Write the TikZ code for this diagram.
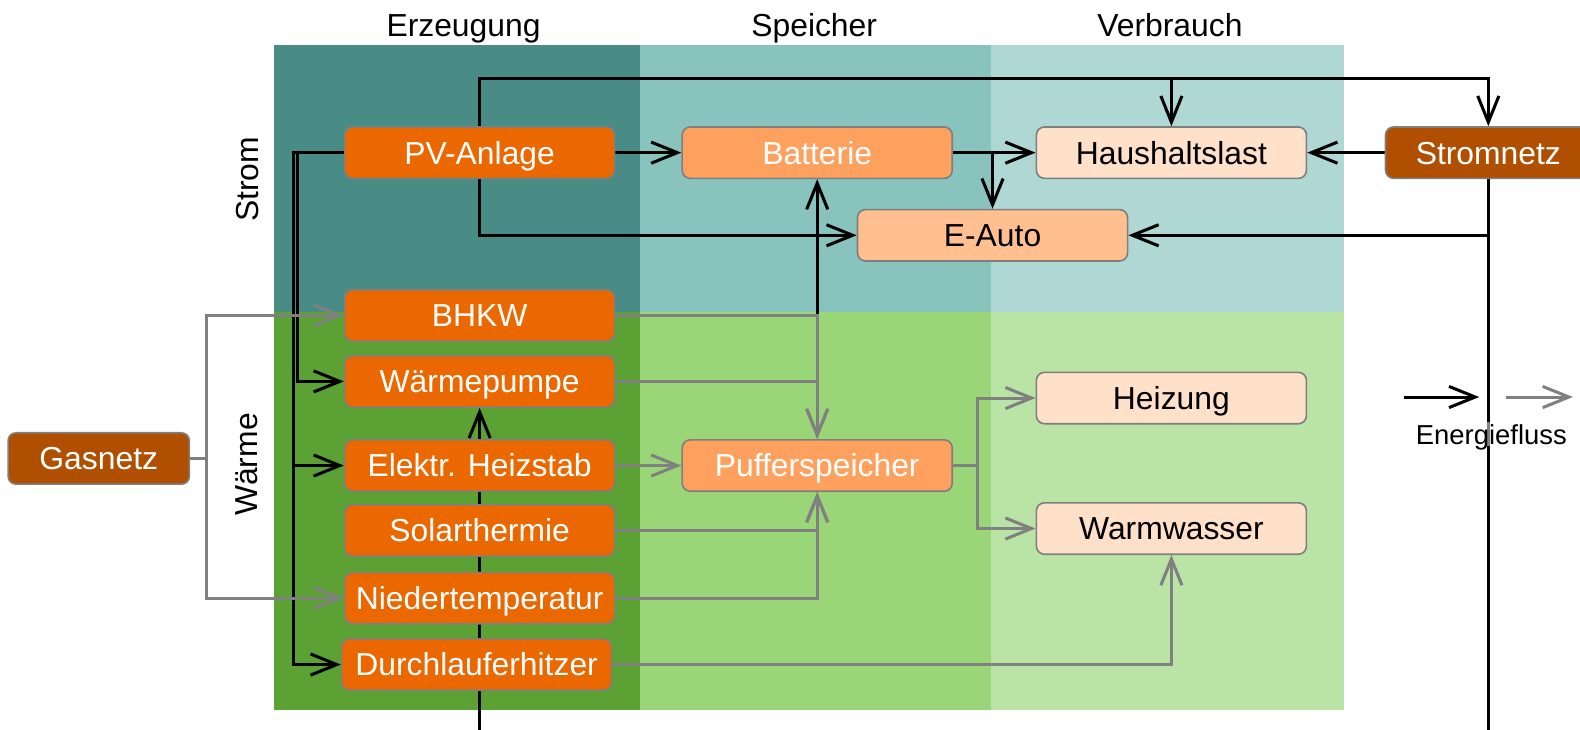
\documentclass[tikz,border=0pt]{standalone}
\usepackage{fontspec}
\setmainfont{Liberation Sans}
\usetikzlibrary{arrows.meta}
\definecolor{sErz}{HTML}{498B85}
\definecolor{sSpe}{HTML}{88C3BD}
\definecolor{sVer}{HTML}{AFD7D4}
\definecolor{wErz}{HTML}{5BA133}
\definecolor{wSpe}{HTML}{9AD678}
\definecolor{wVer}{HTML}{BAE3A6}
\definecolor{genC}{HTML}{EB6700}
\definecolor{stoC}{HTML}{FFA15E}
\definecolor{autoC}{HTML}{FFBF8F}
\definecolor{useC}{HTML}{FFE0C9}
\definecolor{netC}{HTML}{B14F00}
\definecolor{bordC}{HTML}{7F7F7F}
\definecolor{heatC}{HTML}{808080}
\newcommand{\nf}{\fontsize{15.8pt}{18pt}\selectfont}
\newcommand{\lf}{\fontsize{13.6pt}{16pt}\selectfont}
\pgfdeclarelayer{bg}
\pgfdeclarelayer{mid}
\pgfsetlayers{bg,mid,main}
\tikzset{
  box/.style={rounded corners=4pt, draw=bordC, line width=0.8pt, minimum width=134pt, minimum height=25.5pt, inner sep=0pt, font=\nf, text height=11.3pt, text depth=0pt},
  gen/.style={box, fill=genC, text=white},
  sto/.style={box, fill=stoC, text=white},
  autobox/.style={box, fill=autoC, text=black},
  use/.style={box, fill=useC, text=black},
  net/.style={box, fill=netC, text=white},
  sflow/.style={draw=black, line width=1.5pt, -{Straight Barb[length=13pt,width=10.5pt]}},
  hflow/.style={draw=heatC, line width=1.5pt, -{Straight Barb[length=13pt,width=10.5pt]}},
  hdr/.style={font=\nf, text=black, inner sep=0pt, text height=11.3pt, text depth=0pt},
}
\begin{document}
\begin{tikzpicture}[x=0.5pt, y=-0.5pt]
\useasboundingbox (0,0) rectangle (1568,724);

% nodes
\node[gen] (pv) at (476,151.5) {PV-Anlage};
\node[gen] (bhkw) at (476,313) {BHKW};
\node[gen] (wp) at (476,378.5) {Wärmepumpe};
\node[gen] (hs) at (476,462) {Elektr. Heizstab};
\node[gen] (solar) at (476,526.5) {Solarthermie};
\node[gen] (nt) at (476,593.5) {Niedertemperatur};
\node[gen] (dle) at (473,659.5) {Durchlauferhitzer};
\node[sto] (batt) at (811,151.5) {Batterie};
\node[sto] (puffer) at (811,462) {Pufferspeicher};
\node[autobox] (eauto) at (985,233.5) {E-Auto};
\node[use] (haus) at (1162.5,151.5) {Haushaltslast};
\node[use] (heiz) at (1162.5,395) {Heizung};
\node[use] (ww) at (1162.5,524.5) {Warmwasser};
\node[net, minimum width=102pt] (netz) at (1477,151.5) {Stromnetz};
\node[net, minimum width=90pt] (gas) at (98,455) {Gasnetz};

% labels
\node[hdr] (lErz) at (460,24.5) {Erzeugung};
\node[hdr] (lSpe) at (808,24.5) {Speicher};
\node[hdr] (lVer) at (1161,24.5) {Verbrauch};
\node[hdr, rotate=90] (lStrom) at (245,178) {Strom};
\node[hdr, rotate=90] (lWaerme) at (244,461) {Wärme};

\begin{pgfonlayer}{bg}
  \fill[sErz] (272,45) rectangle (635,310);
  \fill[sSpe] (635,45) rectangle (983,310);
  \fill[sVer] (983,45) rectangle (1334,310);
  \fill[wErz] (272,310) rectangle (635,705);
  \fill[wSpe] (635,310) rectangle (983,705);
  \fill[wVer] (983,310) rectangle (1334,705);
\end{pgfonlayer}

% helper coordinates
\coordinate (top) at (1000,78);
\coordinate (bottom) at (1000,770);
\coordinate (pvl) at (291,151.5);
\coordinate (pvl2) at (295,151.5);
\coordinate (gasj) at (205,455);
\coordinate (pj) at (970,462);
\coordinate (la) at (1393,394);
\coordinate (lb) at (1468,394);
\coordinate (lc) at (1495,394);
\coordinate (ld) at (1561,394);

\begin{pgfonlayer}{mid}
  % electricity
  \draw[sflow] (pv.north) |- (top) -| (netz.north);
  \draw[sflow] (pv.north) |- (top) -| (haus.north);
  \draw[sflow] (pv.south) |- (eauto.west);
  \draw[sflow] (pv.east) -- (batt.west);
  \draw[sflow] (pv.west) -- (pvl) |- (hs.west);
  \draw[sflow] (pv.west) -- (pvl) |- (dle.west);
  \draw[sflow] (pv.west) -- (pvl2) |- (wp.west);
  \draw[sflow] (batt.east) -- (haus.west);
  \draw[sflow] (batt.east) -| (eauto.north);
  \draw[sflow] (netz.west) -- (haus.east);
  \draw[sflow] (netz.south) |- (eauto.east);
  \draw[sflow] (netz.south) |- (bottom) -| (wp.south);
  \draw[sflow] (bhkw.east) -| (batt.south);
  % heat
  \draw[hflow] (gas.east) -- (gasj) |- (bhkw.west);
  \draw[hflow] (gas.east) -- (gasj) |- (nt.west);
  \draw[hflow] (bhkw.east) -| (puffer.north);
  \draw[hflow] (wp.east) -| (puffer.north);
  \draw[hflow] (hs.east) -- (puffer.west);
  \draw[hflow] (solar.east) -| (puffer.south);
  \draw[hflow] (nt.east) -| (puffer.south);
  \draw[hflow] (dle.east) -| (ww.south);
  \draw[hflow] (puffer.east) -- (pj) |- (heiz.west);
  \draw[hflow] (puffer.east) -- (pj) |- (ww.west);
  % legend
  \draw[sflow] (la) -- (lb);
  \draw[hflow] (lc) -- (ld);
\end{pgfonlayer}
\node[font=\lf, fill=white, fill opacity=0.5, text opacity=1, inner sep=1pt, text height=9.8pt, text depth=0pt] (legend) at (1480,431) {Energiefluss};
\end{tikzpicture}
\end{document}
